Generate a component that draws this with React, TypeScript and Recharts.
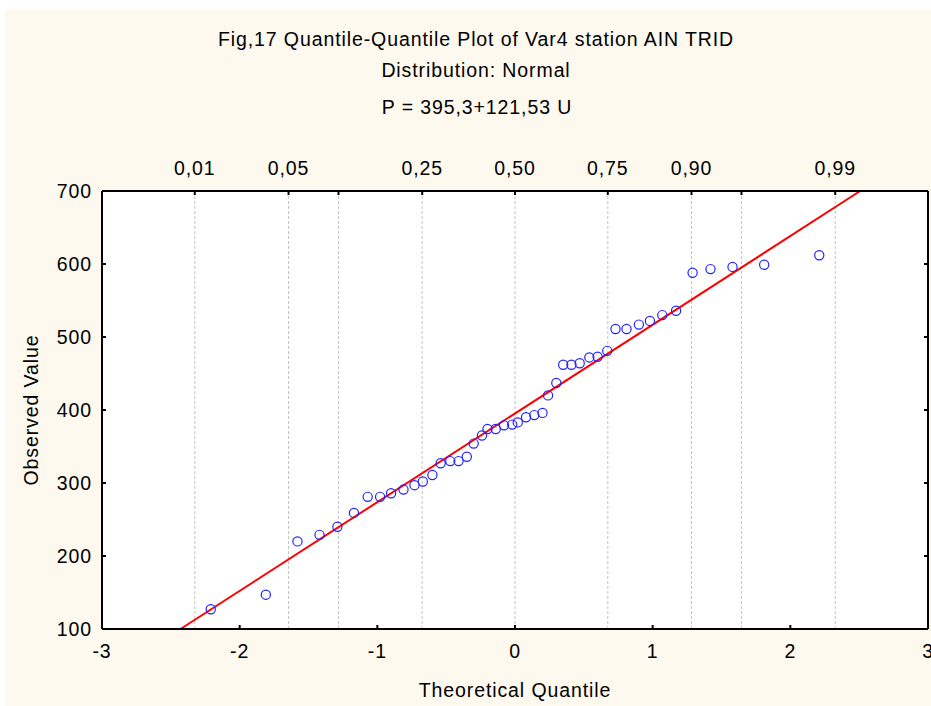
import React from 'react';
import { ScatterChart, Scatter, XAxis, YAxis, ReferenceLine, CartesianGrid } from 'recharts';

const theoreticalQuantiles = [
  -2.21, -1.81, -1.58, -1.42, -1.29, -1.17, -1.07, -0.98, -0.90, -0.81,
  -0.73, -0.67, -0.60, -0.54, -0.47, -0.41, -0.35, -0.30, -0.24, -0.20,
  -0.14, -0.08, -0.02, 0.02, 0.08, 0.14, 0.20, 0.24, 0.30, 0.35,
  0.41, 0.47, 0.54, 0.60, 0.67, 0.73, 0.81, 0.90, 0.98, 1.07,
  1.17, 1.29, 1.42, 1.58, 1.81, 2.21,
];
const observedValues = [
  127, 147, 220, 229, 240, 259, 281, 281, 286, 291,
  297, 302, 311, 327, 330, 330, 336, 354, 365, 374,
  374, 379, 380, 383, 390, 393, 396, 420, 437, 462,
  462, 464, 472, 473, 481, 511, 511, 517, 522, 530,
  536, 588, 593, 596, 599, 612,
];

// Probability scale on top axis
const probLabels = ['0,01', '0,05', '', '0,25', '0,50', '0,75', '0,90', '', '0,99'];
const probQuantiles = [-2.326, -1.645, -1.282, -0.674, 0, 0.674, 1.282, 1.645, 2.326];

const xTicks = [-3, -2, -1, 0, 1, 2, 3];
const yTicks = [100, 200, 300, 400, 500, 600, 700];

const fitIntercept = 395.3;
const fitSlope = 121.53;

const xDomain: [number, number] = [-3, 3];
const yDomain: [number, number] = [100, 700];

const titleLines = [
  'Fig,17 Quantile-Quantile Plot of Var4 station AIN TRID',
  'Distribution: Normal',
  'P = 395,3+121,53 U',
];
const xAxisTitle = 'Theoretical Quantile';
const yAxisTitle = 'Observed Value';

const points = theoreticalQuantiles.map((q, i) => ({ q, v: observedValues[i] }));
const fitLow = { x: (yDomain[0] - fitIntercept) / fitSlope, y: yDomain[0] };
const fitHigh = { x: (yDomain[1] - fitIntercept) / fitSlope, y: yDomain[1] };

const FONT = '"Liberation Sans", Arial, sans-serif';
const CREAM = '#fdf9ee';
const FS = 19.5;
const LS = 0.9;
const tickFont = { fontSize: FS, fill: '#000', fontFamily: FONT, letterSpacing: LS };

const HollowCircle = (props: any) => {
  const { cx, cy } = props;
  if (cx == null || cy == null) return <g />;
  return <circle cx={cx} cy={cy} r={4.6} fill="none" stroke="#2222ff" strokeWidth={1.2} />;
};
const NoShape = () => <g />;

export default function App() {
  const textProps = { fontSize: FS, fontFamily: FONT, fill: '#000', letterSpacing: LS };
  return (
    <div style={{ position: 'absolute', left: 0, top: 0, width: 931, height: 706, background: '#fff', overflow: 'hidden' }}>
      <div style={{ position: 'absolute', left: 5, top: 10, width: 926, height: 696, background: CREAM }} />
      <div style={{ position: 'absolute', left: 0, top: 0 }}>
        <ScatterChart
          width={931}
          height={706}
          margin={{ top: 151, right: 0, bottom: 0, left: 42 }}
        >
          <CartesianGrid horizontal={false} vertical={false} fill="#ffffff" xAxisId="bottom" yAxisId="left" />
          <XAxis
            xAxisId="bottom"
            dataKey="q"
            type="number"
            domain={xDomain}
            ticks={xTicks}
            interval={0}
            allowDataOverflow
            orientation="bottom"
            height={77}
            tickSize={-4}
            tickMargin={19}
            stroke="#000"
            strokeWidth={2}
            tick={tickFont}
            tickLine={{ stroke: '#000', strokeWidth: 2 }}
          />
          <XAxis
            xAxisId="top"
            dataKey="q"
            type="number"
            domain={xDomain}
            ticks={probQuantiles}
            interval={0}
            allowDataOverflow
            orientation="top"
            height={40}
            tickSize={-4}
            tickMargin={20}
            stroke="#000"
            strokeWidth={2}
            tick={tickFont}
            tickLine={{ stroke: '#000', strokeWidth: 2 }}
            tickFormatter={(val: number) => {
              const i = probQuantiles.indexOf(val);
              return i >= 0 ? probLabels[i] : '';
            }}
          />
          <YAxis
            yAxisId="left"
            dataKey="v"
            type="number"
            domain={yDomain}
            ticks={yTicks}
            interval={0}
            allowDataOverflow
            orientation="left"
            width={60}
            tickSize={-4}
            tickMargin={14}
            stroke="#000"
            strokeWidth={2}
            tick={tickFont}
            tickLine={{ stroke: '#000', strokeWidth: 2 }}
          />
          <YAxis
            yAxisId="right"
            dataKey="v"
            type="number"
            domain={yDomain}
            ticks={yTicks}
            interval={0}
            allowDataOverflow
            orientation="right"
            width={3}
            tickSize={-4}
            stroke="#000"
            strokeWidth={2}
            tick={tickFont}
            tickLine={{ stroke: '#000', strokeWidth: 2 }}
            tickFormatter={() => ''}
          />
          {probQuantiles.map((pq, i) => (
            <ReferenceLine
              key={'g' + i}
              x={pq}
              xAxisId="bottom"
              yAxisId="left"
              stroke="#c4c4c4"
              strokeWidth={1}
              strokeDasharray="3 2"
            />
          ))}
          <ReferenceLine
            xAxisId="bottom"
            yAxisId="left"
            segment={[fitLow, fitHigh]}
            stroke="#ff0000"
            strokeWidth={2}
            ifOverflow="visible"
          />
          <Scatter
            data={points}
            xAxisId="top"
            yAxisId="right"
            shape={NoShape}
            isAnimationActive={false}
          />
          <Scatter
            data={points}
            xAxisId="bottom"
            yAxisId="left"
            shape={HollowCircle}
            isAnimationActive={false}
          />
        </ScatterChart>
      </div>
      <svg
        width={931}
        height={706}
        style={{ position: 'absolute', left: 0, top: 0, pointerEvents: 'none' }}
      >
        <text x={476} y={46} textAnchor="middle" {...textProps}>{titleLines[0]}</text>
        <text x={476} y={77} textAnchor="middle" {...textProps}>{titleLines[1]}</text>
        <text x={477} y={114} textAnchor="middle" {...textProps}>{titleLines[2]}</text>
        <text x={515} y={697} textAnchor="middle" {...textProps}>{xAxisTitle}</text>
        <text
          x={0}
          y={0}
          transform="translate(38,410) rotate(-90)"
          textAnchor="middle"
          {...textProps}
        >
          {yAxisTitle}
        </text>
      </svg>
    </div>
  );
}
